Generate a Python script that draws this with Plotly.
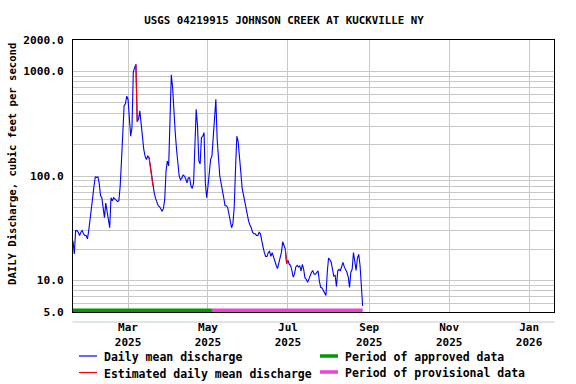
import pandas as pd
import plotly.graph_objects as go

# ---------------- data ----------------
start_date = "2025-01-18"
discharge = [
    24, 18, 30, 30, 29, 27, 29, 30, 28, 27,          # d0-9
    27, 25, 30, 37, 47, 62, 80, 98, 97, 98,          # d10-19
    85, 65, 62, 47, 40, 55, 45, 36, 32, 62,          # d20-29
    58, 62, 60, 58, 57, 58, 80, 140, 300, 470,       # d30-39
    490, 580, 540, 320, 240, 290, 980, 1090, 1170, 330,  # d40-49
    350, 420, 300, 220, 180, 155, 144, 155, 150, 125,    # d50-59
    100, 80, 69, 61, 55, 52, 51, 49, 46, 49,         # d60-69
    60, 112, 139, 125, 279, 930, 700, 400, 260, 180,  # d70-79
    130, 100, 92, 95, 102, 100, 94, 86, 96, 96,      # d80-89
    80, 76, 86, 200, 434, 300, 140, 130, 233, 240,   # d90-99
    260, 85, 62, 80, 112, 144, 155, 250, 400, 541,   # d100-109
    224, 150, 100, 85, 69, 62, 52, 52, 50, 42,       # d110-119
    38, 32, 35, 50, 116, 240, 215, 165, 110, 77,     # d120-129
    66, 56, 47, 42, 37, 34, 32, 29, 28, 28,          # d130-139
    27, 27, 29, 28, 25, 21, 18.5, 17, 17, 18.5,      # d140-149
    19, 17, 18.5, 16.5, 15.4, 14, 13, 14.5, 16, 18.5,  # d150-159
    23.5, 22, 20, 14.5, 15.6, 14.3, 14, 12.5, 10.8, 11.5,  # d160-169
    13.5, 14, 13.5, 13.8, 12.4, 14.3, 12.8, 10.6, 10.3, 9.6,  # d170-179
    10.3, 11.5, 12, 12.4, 11.5, 11.5, 12, 12.4, 9.8, 8.6,  # d180-189
    8.5, 8.0, 7.7, 7.2, 12, 16.4, 15.8, 15, 12.8, 11,  # d190-199
    11.2, 8.8, 12.4, 12.8, 12.4, 13.5, 14.9, 13.5, 12.8, 12,  # d200-209
    10.8, 8.6, 12, 12.8, 18.5, 14.5, 12.5, 16.4, 17.8, 14,  # d210-219
    7.9, 5.7,                                         # d220-221
]
estimated_dates = ["2025-03-07", "2025-03-08",
                   "2025-03-17", "2025-03-18", "2025-03-19", "2025-03-20",
                   "2025-06-29", "2025-06-30", "2025-07-01"]
approved_period = ["2025-01-18", "2025-05-04"]
provisional_period = ["2025-05-04", "2025-08-27"]
period_bar_level = 5.2

x_range = ["2025-01-18", "2026-01-20"]
x_tickvals = ["2025-03-01", "2025-05-01", "2025-07-01", "2025-09-01", "2025-11-01", "2026-01-01"]
x_ticktext = ["Mar<br>2025", "May<br>2025", "Jul<br>2025", "Sep<br>2025", "Nov<br>2025", "Jan<br>2026"]
y_grid_vals = [5, 6, 7, 8, 9, 10, 20, 30, 40, 50, 60, 70, 80, 90,
               100, 200, 300, 400, 500, 600, 700, 800, 900, 1000, 2000]
y_labels = {5: "5.0", 10: "10.0", 100: "100.0", 1000: "1000.0", 2000: "2000.0"}

title = "USGS 04219915 JOHNSON CREEK AT KUCKVILLE NY"
y_title = "DAILY Discharge, cubic feet per second"
legend_items = ["Daily mean discharge", "Estimated daily mean discharge",
                "Period of approved data", "Period of provisional data"]

BLUE, RED, GREEN, PINK = "#0000ff", "#ff0000", "#009900", "#f040d8"
GRID = "#c8c8c8"
FONT = "DejaVu Sans Mono"

# ---------------- build ----------------
dates = pd.date_range(start_date, periods=len(discharge), freq="D")
est_set = set(pd.to_datetime(estimated_dates))
est_vals = [v if d in est_set else None for d, v in zip(dates, discharge)]

fig = go.Figure()
fig.add_trace(go.Scatter(x=dates, y=discharge, mode="lines",
                         line=dict(color=BLUE, width=1.1), showlegend=False))
fig.add_trace(go.Scatter(x=dates, y=est_vals, mode="lines",
                         line=dict(color=RED, width=1.1), connectgaps=False, showlegend=False))
fig.add_trace(go.Scatter(x=approved_period, y=[period_bar_level] * 2, mode="lines",
                         line=dict(color=GREEN, width=3.5), showlegend=False))
fig.add_trace(go.Scatter(x=provisional_period, y=[period_bar_level] * 2, mode="lines",
                         line=dict(color=PINK, width=3.5), showlegend=False))

L, R, T, B = 73, 554, 40, 312
W, H = R - L, B - T


def px(x):
    return (x - L) / W


def py(y):
    return (B - y) / H


shapes = []
annotations = []
# legend
leg = [
    (79, 97, 356, BLUE, 1.2, 102, legend_items[0]),
    (79, 97, 372.5, RED, 1.2, 102, legend_items[1]),
    (320, 338, 356, GREEN, 3.5, 343, legend_items[2]),
    (320, 338, 372, PINK, 3.5, 343, legend_items[3]),
]
for x0, x1, yy, col, w, tx, txt in leg:
    shapes.append(dict(type="line", xref="paper", yref="paper",
                       x0=px(x0), x1=px(x1), y0=py(yy), y1=py(yy),
                       line=dict(color=col, width=w)))
    annotations.append(dict(xref="paper", yref="paper", x=px(tx), y=py(yy + 1),
                            xanchor="left", yanchor="middle", showarrow=False,
                            text=txt, font=dict(family=FONT, size=11.5, color="black",
                                                weight="bold")))
# gray line below plot
shapes.append(dict(type="line", xref="paper", yref="paper",
                   x0=px(72.5), x1=px(554.5), y0=py(322), y1=py(322),
                   line=dict(color=GRID, width=1)))
# y title
annotations.append(dict(xref="paper", yref="paper", x=px(12), y=py(164),
                        xanchor="center", yanchor="middle", showarrow=False,
                        textangle=-90, text=y_title,
                        font=dict(family=FONT, size=10.6, color="black", weight="bold")))

fig.update_layout(
    width=576, height=384,
    margin=dict(l=L, r=576 - R, t=T, b=384 - B, pad=0),
    paper_bgcolor="white", plot_bgcolor="white",
    title=dict(text=title, x=284 / 576, xref="container", xanchor="center",
               y=1 - 20 / 384, yref="container", yanchor="middle",
               font=dict(family=FONT, size=10.8, color="black", weight="bold")),
    shapes=shapes, annotations=annotations, showlegend=False,
)
fig.update_xaxes(
    type="date", range=x_range, tickmode="array", tickvals=x_tickvals, ticktext=x_ticktext,
    showgrid=True, gridcolor=GRID, gridwidth=1,
    showline=True, linecolor="black", linewidth=1, mirror=True,
    ticks="outside", ticklen=5, tickcolor="rgba(0,0,0,0)",
    tickfont=dict(family=FONT, size=11, color="black", weight="bold"),
    zeroline=False,
)
fig.update_yaxes(
    type="log", range=[0.69897, 3.30103], tickmode="array",
    tickvals=y_grid_vals, ticktext=[y_labels.get(v, "") for v in y_grid_vals],
    showgrid=True, gridcolor=GRID, gridwidth=1,
    showline=True, linecolor="black", linewidth=1, mirror=True,
    ticks="outside", ticklen=6, tickcolor="rgba(0,0,0,0)",
    tickfont=dict(family=FONT, size=11.2, color="black", weight="bold"),
    zeroline=False,
)

fig.write_html("out.html")
